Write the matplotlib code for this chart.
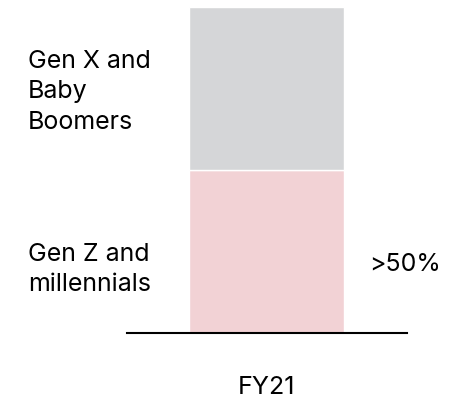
import matplotlib.pyplot as plt

plt.rcParams['font.family'] = ['Inter', 'DejaVu Sans']

# share of customers by generation, FY21
period = ["FY21"]
gen_z_millennials = [50]
gen_x_boomers = [50]
seg_labels = ["Gen Z and\nmillennials", "Gen X and\nBaby\nBoomers"]
share_note = ">50%"

pink = "#f2d2d5"
grey = "#d5d6d8"

fig = plt.figure(figsize=(4.61, 4.03), dpi=100)
ax = fig.add_axes([127 / 461, 70 / 403, 280 / 461, 326 / 403])

ax.bar(period, gen_z_millennials, width=0.55, color=pink, edgecolor="white", linewidth=1)
ax.bar(period, gen_x_boomers, width=0.55, bottom=gen_z_millennials,
       color=grey, edgecolor="white", linewidth=1)

ax.set_xlim(-0.495, 0.4985)
ax.set_ylim(0, 100)

for s in ["top", "left", "right"]:
    ax.spines[s].set_visible(False)
ax.spines["bottom"].set_linewidth(1.5)
ax.set_yticks([])
ax.tick_params(axis="x", length=0, labelsize=18, pad=31)

# segment labels to the left of the bar, share note to the right
ax.text(-0.846, 19.5, seg_labels[0], ha="left", va="center",
        fontsize=18, linespacing=1.38)
ax.text(-0.846, 74, seg_labels[1], ha="left", va="center",
        fontsize=18, linespacing=1.42)
ax.text(0.365, 21, share_note, ha="left", va="center", fontsize=18)

fig.savefig("out.png", dpi=100)
